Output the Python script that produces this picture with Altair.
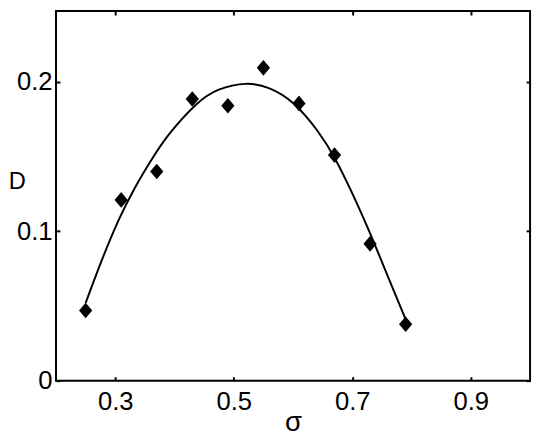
import altair as alt
import pandas as pd

# measured data points (diamonds)
sigma = [0.25, 0.31, 0.37, 0.43, 0.49, 0.55, 0.61, 0.67, 0.73, 0.79]
D = [0.047, 0.121, 0.140, 0.1885, 0.184, 0.2094, 0.1856, 0.151, 0.0916, 0.0378]

# fitted curve
fit_sigma = [0.250, 0.2775, 0.305, 0.333, 0.361, 0.3885, 0.4385, 0.472,
             0.522, 0.560, 0.599, 0.6436, 0.6714, 0.699, 0.7268, 0.7546, 0.790]
fit_D = [0.052, 0.0813, 0.1077, 0.1296, 0.148, 0.1648, 0.1868, 0.1955,
         0.2000, 0.1966, 0.1879, 0.1670, 0.1490, 0.1265, 0.1020, 0.0750, 0.0410]

x_ticks = [0.3, 0.5, 0.7, 0.9]
y_ticks = [0.0, 0.1, 0.2]
x_domain = [0.2, 1.0]
y_domain = [0.0, 0.2474]

W, H = 481, 375
FONT = "Liberation Sans"

pts = pd.DataFrame({"sigma": sigma, "D": D})
fit = pd.DataFrame({"sigma": fit_sigma, "D": fit_D})

xs = alt.Scale(domain=x_domain, nice=False, zero=False)
ys = alt.Scale(domain=y_domain, nice=False, zero=False)

main_x = alt.Axis(orient="bottom", values=x_ticks, format=".1~f", ticks=False,
                  domain=False, grid=False, labelFont=FONT, labelFontSize=26,
                  labelColor="black", labelPadding=8, title="σ", titleFont=FONT,
                  titleFontSize=28, titleFontWeight="normal", titleColor="black",
                  titleBaseline="alphabetic", titleY=51)
main_y = alt.Axis(orient="left", values=y_ticks, format=".1~f", ticks=False,
                  domain=False, grid=False, labelFont=FONT, labelFontSize=26,
                  labelColor="black", labelPadding=4, title="D", titleFont=FONT,
                  titleFontSize=24, titleFontWeight="normal", titleColor="black",
                  titleAngle=0, titleAlign="left", titleBaseline="alphabetic",
                  titleX=-48.5, titleY=180)


def tick_axis(orient, values, offset):
    return alt.Axis(orient=orient, values=values, offset=offset, labels=False,
                    domain=False, grid=False, ticks=True, tickSize=4, tickWidth=2,
                    tickColor="black", title=None)


curve = alt.Chart(fit).mark_line(color="black", strokeWidth=2, interpolate="basis").encode(
    x=alt.X("sigma:Q", scale=xs, axis=main_x),
    y=alt.Y("D:Q", scale=ys, axis=main_y),
)

diamond = "M0,-1L0.85,0L0,1L-0.85,0Z"
points = alt.Chart(pts).mark_point(shape=diamond, filled=True, size=250, color="black",
                                   opacity=1).encode(
    x=alt.X("sigma:Q", scale=xs, axis=tick_axis("top", x_ticks, -H)),
    y=alt.Y("D:Q", scale=ys, axis=tick_axis("right", y_ticks, -W)),
)

ghost = alt.Chart(pts).mark_point(opacity=0).encode(
    x=alt.X("sigma:Q", scale=xs, axis=tick_axis("bottom", x_ticks, -H)),
    y=alt.Y("D:Q", scale=ys, axis=tick_axis("left", y_ticks, -W)),
)

chart = alt.layer(curve, points, ghost).resolve_axis(
    x="independent", y="independent"
).properties(
    width=W, height=H,
    autosize=alt.AutoSizeParams(type="none"),
    padding={"left": 48.7, "top": 0, "right": 5, "bottom": 53},
).configure_view(stroke="black", strokeWidth=2)

chart.save("out.html", embed_options={"renderer": "svg", "actions": False})
